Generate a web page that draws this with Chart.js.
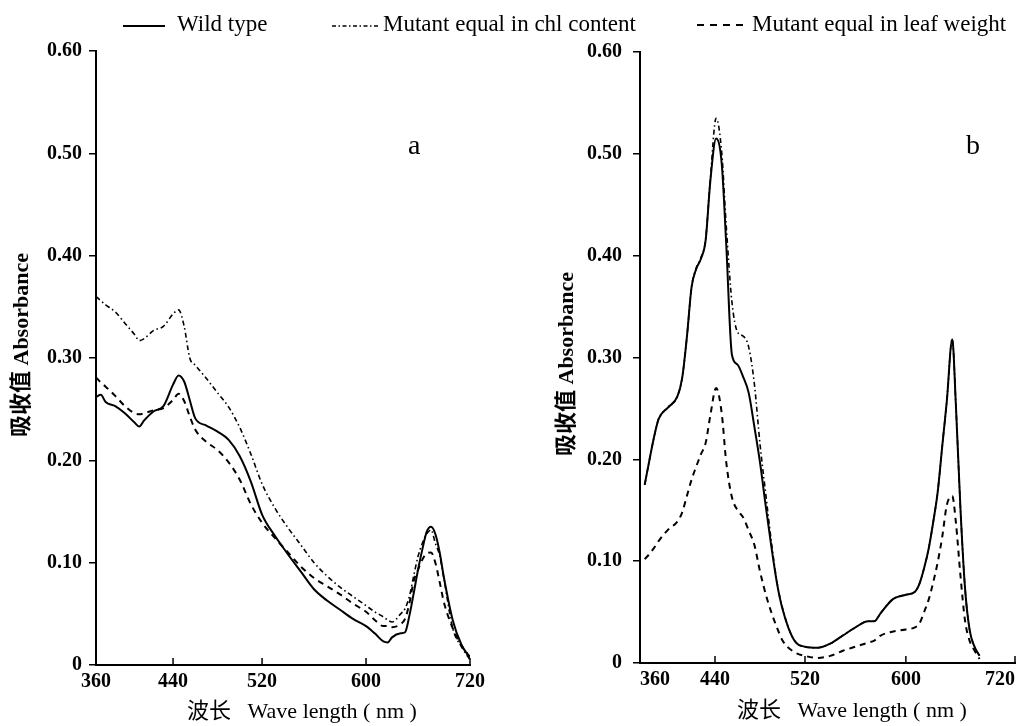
<!DOCTYPE html>
<html>
<head>
<meta charset="utf-8">
<script src="https://cdn.jsdelivr.net/npm/chart.js@4/dist/chart.umd.min.js"></script>
<style>
    body { margin: 0; background: #fff; }
    #page { position: relative; width: 1024px; height: 726px; overflow: hidden; font-family: 'Liberation Serif', 'Noto Sans CJK SC', serif; color: #000; }
    .panel { position: absolute; top: 0; height: 726px; }
    .txt { position: absolute; white-space: nowrap; line-height: 1; }
    .legend-txt { font-size: 23px; top: 12px; }
    .ytitle { font-size: 22px; font-weight: bold; transform: translate(-50%, -50%) rotate(-90deg); }
    .xtitle { font-size: 22px; transform: translate(-50%, -50%); }
    .tag { font-size: 28px; top: 131px; }
</style>
</head>
<body>
<div id="page">
    <div class="panel" style="left: 0; width: 490px;"><canvas id="chartA"></canvas></div>
    <div class="panel" style="left: 520px; width: 504px;"><canvas id="chartB"></canvas></div>

    <!-- shared legend -->
    <svg style="position: absolute; left: 0; top: 0;" width="1024" height="40">
        <line x1="123" y1="26" x2="165" y2="26" stroke="#000" stroke-width="2"/>
        <line x1="332" y1="26" x2="378" y2="26" stroke="#000" stroke-width="1.5" stroke-dasharray="4 2.5 1.5 2.5"/>
        <line x1="697" y1="25" x2="747" y2="25" stroke="#000" stroke-width="2" stroke-dasharray="7 6"/>
    </svg>
    <div class="txt legend-txt" style="left: 177px;">Wild type</div>
    <div class="txt legend-txt" style="left: 383px;">Mutant equal in chl content</div>
    <div class="txt legend-txt" style="left: 752px;">Mutant equal in leaf weight</div>

    <div class="txt ytitle" style="left: 21px; top: 345px;">吸收值 Absorbance</div>
    <div class="txt ytitle" style="left: 566px; top: 364px;">吸收值 Absorbance</div>
    <div class="txt xtitle" style="left: 302px; top: 711px;">波长&nbsp;&nbsp;&nbsp;Wave length ( nm )</div>
    <div class="txt xtitle" style="left: 852px; top: 710px;">波长&nbsp;&nbsp;&nbsp;Wave length ( nm )</div>
    <div class="txt tag" style="left: 408px;">a</div>
    <div class="txt tag" style="left: 966px;">b</div>
</div>

<script>
// Absorption spectra, panel a
const wavesA = [360, 365, 370, 380, 390, 400, 405, 410, 420, 430, 440, 445, 450, 455, 460, 470, 480, 490, 500, 510,
    520, 530, 540, 550, 560, 570, 580, 590, 600, 610, 620, 625, 630, 640, 645, 650, 655, 660, 665, 670,
    675, 680, 685, 690, 700, 710, 720];
const wildA = [0.262, 0.264, 0.257, 0.253, 0.246, 0.237, 0.233, 0.239, 0.248, 0.253, 0.274, 0.283, 0.277, 0.259, 0.241, 0.234, 0.228, 0.220, 0.204, 0.179,
    0.147, 0.126, 0.108, 0.091, 0.074, 0.063, 0.054, 0.045, 0.038, 0.031, 0.023, 0.022, 0.027, 0.031, 0.032, 0.048, 0.070, 0.093, 0.113, 0.130,
    0.135, 0.128, 0.110, 0.085, 0.044, 0.020, 0.007];
const chlA = [0.360, 0.356, 0.352, 0.345, 0.334, 0.323, 0.317, 0.319, 0.327, 0.331, 0.343, 0.347, 0.331, 0.300, 0.293, 0.280, 0.266, 0.252, 0.232, 0.206,
    0.177, 0.153, 0.134, 0.117, 0.100, 0.087, 0.076, 0.067, 0.058, 0.052, 0.047, 0.044, 0.042, 0.050, 0.055, 0.067, 0.087, 0.106, 0.119, 0.128,
    0.132, 0.119, 0.107, 0.084, 0.036, 0.018, 0.005];
const leafA = [0.281, 0.276, 0.272, 0.263, 0.253, 0.246, 0.245, 0.246, 0.249, 0.251, 0.259, 0.265, 0.258, 0.243, 0.230, 0.218, 0.210, 0.198, 0.181, 0.157,
    0.139, 0.124, 0.110, 0.096, 0.085, 0.077, 0.069, 0.060, 0.052, 0.044, 0.038, 0.038, 0.037, 0.040, 0.045, 0.060, 0.082, 0.093, 0.103, 0.109,
    0.110, 0.100, 0.081, 0.061, 0.036, 0.019, 0.008];

// Absorption spectra, panel b
const wavesB = [365, 370, 375, 380, 390, 400, 405, 410, 415, 420, 425, 430, 435, 441, 446, 450, 455, 460, 465, 470,
    475, 480, 485, 490, 495, 500, 510, 520, 530, 540, 550, 560, 570, 575, 580, 590, 600, 610, 615, 620,
    625, 630, 635, 640, 645, 651, 655, 660, 665, 670, 675, 681];
const wildB = [0.175, 0.199, 0.222, 0.240, 0.251, 0.262, 0.280, 0.320, 0.369, 0.387, 0.397, 0.415, 0.473, 0.515, 0.490, 0.411, 0.303, 0.293, 0.281, 0.265,
    0.232, 0.197, 0.155, 0.115, 0.079, 0.053, 0.023, 0.016, 0.015, 0.019, 0.027, 0.035, 0.041, 0.041, 0.049, 0.063, 0.067, 0.070, 0.078, 0.093,
    0.112, 0.138, 0.168, 0.213, 0.257, 0.318, 0.253, 0.152, 0.074, 0.033, 0.017, 0.007];
const chlB = [0.175, 0.199, 0.222, 0.240, 0.251, 0.262, 0.280, 0.320, 0.369, 0.388, 0.398, 0.416, 0.475, 0.535, 0.501, 0.429, 0.355, 0.325, 0.321, 0.310,
    0.274, 0.215, 0.167, 0.120, 0.080, 0.054, 0.023, 0.016, 0.015, 0.019, 0.027, 0.035, 0.041, 0.041, 0.049, 0.063, 0.067, 0.070, 0.078, 0.093,
    0.112, 0.138, 0.168, 0.213, 0.257, 0.318, 0.253, 0.152, 0.074, 0.033, 0.017, 0.007];
const leafB = [0.102, 0.107, 0.113, 0.120, 0.131, 0.139, 0.148, 0.164, 0.180, 0.193, 0.205, 0.216, 0.243, 0.270, 0.245, 0.197, 0.163, 0.150, 0.143, 0.130,
    0.116, 0.090, 0.068, 0.050, 0.035, 0.022, 0.011, 0.007, 0.005, 0.007, 0.012, 0.016, 0.020, 0.022, 0.027, 0.031, 0.033, 0.035, 0.039, 0.050,
    0.062, 0.079, 0.099, 0.124, 0.155, 0.164, 0.138, 0.086, 0.042, 0.022, 0.013, 0.004];

const xTicks = [360, 440, 520, 600, 720];

// The printed wavelength axis is not evenly spaced, so map each tick
// interval onto its own share of the axis.
class WarpedScale extends Chart.LinearScale {
    warpFraction(value) {
        const stops = this.options.stops, fracs = this.options.fractions;
        if (value <= stops[0]) return fracs[0];
        for (let i = 1; i < stops.length; i++) {
            if (value <= stops[i]) {
                const t = (value - stops[i - 1]) / (stops[i] - stops[i - 1]);
                return fracs[i - 1] + t * (fracs[i] - fracs[i - 1]);
            }
        }
        return fracs[fracs.length - 1];
    }
    getPixelForValue(value) {
        if (value === null || isNaN(value)) return NaN;
        return this.getPixelForDecimal(this.warpFraction(value));
    }
    getValueForPixel(pixel) {
        const d = this.getDecimalForPixel(pixel);
        const stops = this.options.stops, fracs = this.options.fractions;
        for (let i = 1; i < fracs.length; i++) {
            if (d <= fracs[i]) {
                const t = (d - fracs[i - 1]) / (fracs[i] - fracs[i - 1]);
                return stops[i - 1] + t * (stops[i] - stops[i - 1]);
            }
        }
        return stops[stops.length - 1];
    }
}
WarpedScale.id = 'warped';
WarpedScale.defaults = {};
Chart.register(WarpedScale);

Chart.defaults.font.family = "'Liberation Serif', 'Noto Sans CJK SC', serif";
Chart.defaults.color = '#000';

// x tick marks point up into the plot
const innerTicks = {
    id: 'innerTicks',
    afterDraw(chart) {
        const xs = chart.scales.x;
        const ctx = chart.ctx;
        const bottom = chart.chartArea.bottom;
        ctx.save();
        ctx.strokeStyle = '#000';
        ctx.lineWidth = 1.5;
        xs.ticks.forEach((t, i) => {
            if (i === 0) return;
            const px = xs.getPixelForValue(t.value);
            ctx.beginPath();
            ctx.moveTo(px, bottom);
            ctx.lineTo(px, bottom - 7);
            ctx.stroke();
        });
        ctx.restore();
    }
};

function makePanel(id, waves, wild, chl, leaf, layout) {
    const line = (data, dash, width) => ({
        data: data,
        borderColor: '#000',
        borderWidth: width,
        borderDash: dash,
        pointRadius: 0,
        fill: false,
        cubicInterpolationMode: 'monotone'
    });

    return new Chart(document.getElementById(id), {
        type: 'line',
        data: {
            labels: waves,
            datasets: [
                line(wild, [], 2),
                line(chl, [5, 3, 1.5, 3], 1.6),
                line(leaf, [6, 5], 2)
            ]
        },
        options: {
            responsive: true,
            maintainAspectRatio: false,
            animation: false,
            layout: { padding: { top: layout.top, right: layout.right, bottom: 0, left: 0 } },
            plugins: { legend: { display: false }, tooltip: { enabled: false } },
            scales: {
                x: {
                    type: 'warped',
                    min: 360,
                    max: 720,
                    stops: xTicks,
                    fractions: layout.fractions,
                    afterBuildTicks: s => { s.ticks = xTicks.map(v => ({ value: v })); },
                    afterFit: s => { s.height = layout.xHeight; s.paddingLeft = 0; s.paddingRight = 0; },
                    grid: { display: false, drawTicks: false },
                    border: { color: '#000', width: 2 },
                    ticks: {
                        autoSkip: false,
                        maxRotation: 0,
                        padding: 5,
                        align: layout.xAlign,
                        font: { size: 20, weight: 'bold' },
                        callback: v => String(v)
                    }
                },
                y: {
                    min: 0,
                    max: 0.6,
                    afterFit: s => { s.width = layout.yWidth; },
                    grid: { drawOnChartArea: false, drawTicks: true, tickLength: 7, color: '#000', lineWidth: 1.5 },
                    border: { color: '#000', width: 2 },
                    ticks: {
                        stepSize: 0.1,
                        padding: layout.yPad,
                        font: { size: 20, weight: 'bold' },
                        callback: v => (v === 0 ? '0' : v.toFixed(2))
                    }
                }
            }
        },
        plugins: [innerTicks]
    });
}

makePanel('chartA', wavesA, wildA, chlA, leafA,
    { top: 51, right: 20, xHeight: 61, yWidth: 96, yPad: 7, xAlign: 'center', fractions: [0, 0.206, 0.444, 0.722, 1] });
makePanel('chartB', wavesB, wildB, chlB, leafB,
    { top: 52, right: 9, xHeight: 63, yWidth: 120, yPad: 11, xAlign: 'inner', fractions: [0, 0.2, 0.44, 0.709, 1] });
</script>
</body>
</html>
